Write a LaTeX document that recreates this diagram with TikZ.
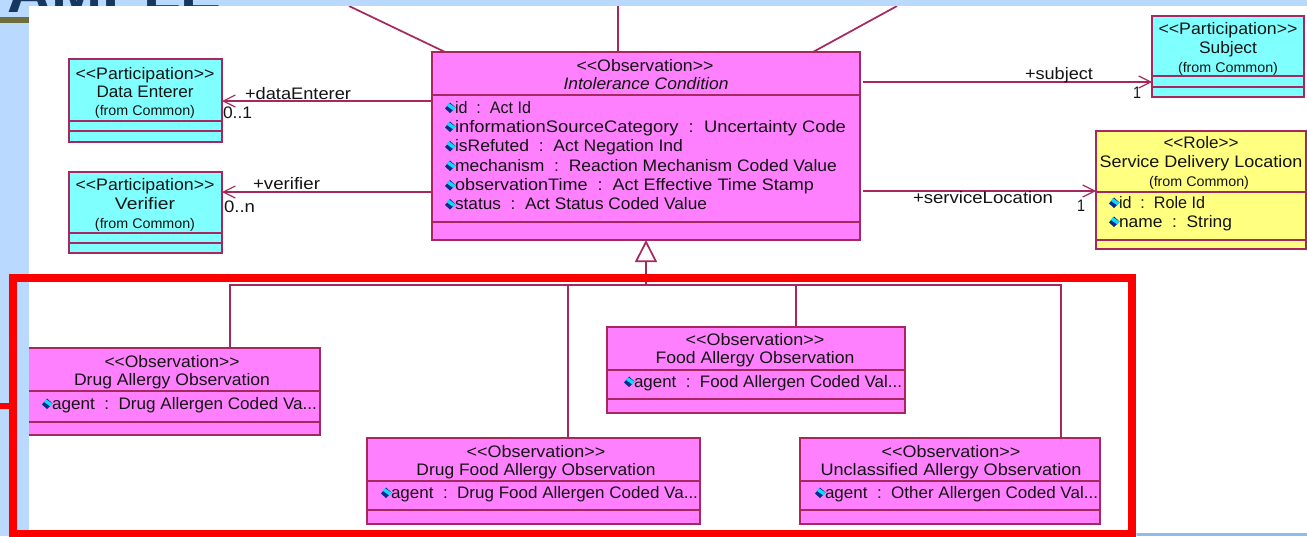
\documentclass[tikz,border=0pt]{standalone}
\usepackage{fontspec}
\usepackage{graphicx}
\setmainfont{Liberation Sans}
\usetikzlibrary{arrows.meta}
\definecolor{slideblue}{HTML}{B9D9FF}
\definecolor{stripblue}{HTML}{8DBDEE}
\definecolor{titlenavy}{HTML}{16375F}
\definecolor{bandolive}{HTML}{6E6E3A}
\definecolor{umlline}{HTML}{A6285E}
\definecolor{umlpink}{HTML}{FF80FF}
\definecolor{umlcyan}{HTML}{80FFFF}
\definecolor{umlyellow}{HTML}{FFFF80}
\definecolor{iconnavy}{HTML}{0A2A8C}
\definecolor{iconcyan}{HTML}{10D8F8}
\definecolor{redframe}{HTML}{FF0000}
\definecolor{txtcol}{HTML}{141414}
\newcounter{tn}
\tikzset{
  umlbox/.style={draw=umlline,line width=1.5pt,inner sep=0pt,outer sep=0pt},
  divider/.style={draw=umlline,line width=1.3pt},
  link/.style={draw=umlline,line width=1.3pt},
  assoc/.style={link,-{Straight Barb[length=9pt,width=9pt,line width=0.9pt]}},
  gen/.style={link,-{Triangle[open,length=16.5pt,width=16.5pt,line width=1.3pt]}},
  lbl/.style={inner sep=0pt,outer sep=0pt,text=txtcol,font=\fontsize{12.5pt}{14pt}\selectfont},
  smalllbl/.style={lbl,font=\fontsize{10.5pt}{12pt}\selectfont},
}
% box: name x1 y1 x2 y2 div1 div2 fill
\newcommand{\boxuml}[8]{%
  \pgfmathsetlengthmacro{\bw}{(#4-#2)*0.75pt}%
  \pgfmathsetlengthmacro{\bh}{(#5-#3)*0.75pt}%
  \node[umlbox,fill=#8,minimum width=\bw,minimum height=\bh] (#1) at ({(#2+#4)/2},{(#3+#5)/2}) {};
  \draw[divider] (#2,#6) -- (#4,#6);
  \draw[divider] (#2,#7) -- (#4,#7);
}
% centred text: cx cy width text
\newcommand{\ctr}[4]{\stepcounter{tn}%
  \pgfmathsetlengthmacro{\tw}{#3*0.75pt}%
  \node[lbl,anchor=base] (t\arabic{tn}) at (#1,{#2+6}) {\resizebox{\tw}{\height}{#4}};}
\newcommand{\frm}[3]{\stepcounter{tn}%
  \node[smalllbl,anchor=base] (t\arabic{tn}) at (#1,{#2+5.5}) {\resizebox{75pt}{\height}{#3}};}
% left text: x cy width text
\newcommand{\lft}[4]{\stepcounter{tn}%
  \pgfmathsetlengthmacro{\tw}{#3*0.75pt}%
  \node[lbl,anchor=base west] (t\arabic{tn}) at (#1,{#2+6}) {\resizebox{\tw}{\height}{#4}};}
% attribute: x cy width text
\newcommand{\attr}[4]{%
  \fill[iconnavy] ({#1-10},{#2+1.5}) -- ({#1-5},{#2-4.5}) -- ({#1+0.5},{#2+0.5}) -- ({#1-5},{#2+6}) -- cycle;
  \fill[iconcyan,rotate around={-35:({#1-4},#2)}] ({#1-8},{#2-2}) rectangle ({#1},{#2+1.5});
  \lft{#1}{#2}{#3}{#4}}
\begin{document}
\begin{tikzpicture}[x=0.75pt,y=-0.75pt]
\useasboundingbox (0,0) rectangle (1307,536);
\begin{scope}
\clip (0,0) rectangle (1307,536);
\fill[slideblue] (0,0) rectangle (1307,536);
\fill[stripblue] (1137,533) rectangle (1307,536);
\node[anchor=base east,inner sep=0pt,text=titlenavy,font=\fontsize{46pt}{50pt}\selectfont\bfseries] (title) at (222,12) {AMPLE};
\fill[bandolive] (0,17) rectangle (29,23);
\fill[white] (29,6) rectangle (1307,533);
\end{scope}
\fill[redframe] (0,403) rectangle (10,409);
\begin{scope}
\clip (29,6) rectangle (1307,533);
\boxuml{de}{69}{59}{222}{142}{121}{131}{umlcyan}
\boxuml{vf}{69}{172}{222}{253}{233}{243}{umlcyan}
\boxuml{main}{432}{52}{860}{240}{95}{222}{umlpink}
\boxuml{subj}{1152}{16}{1304}{97}{76}{87}{umlcyan}
\boxuml{role}{1096}{131}{1306}{249}{192}{240}{umlyellow}
\boxuml{drug}{20}{348}{320}{435}{391}{422}{umlpink}
\boxuml{dfood}{367}{438}{700}{524}{481}{510}{umlpink}
\boxuml{food}{607}{327}{905}{413}{370}{399}{umlpink}
\boxuml{uncl}{800}{438}{1100}{524}{481}{510}{umlpink}
% free ends
\coordinate (topl) at (349,6);
\coordinate (topc) at (618,6);
\coordinate (topr) at (897,6);
\coordinate (mainl) at (445,52);
\coordinate (mainc) at (618,52);
\coordinate (mainr) at (813,52);
\draw[link] (topl) -- (mainl);
\draw[link] (topc) -- (mainc);
\draw[link] (topr) -- (mainr);
\coordinate (deend) at (222,101);
\coordinate (vfend) at (222,192);
\coordinate (sbend) at (1152,82);
\coordinate (rlend) at (1096,191);
\draw[assoc] (main.west |- deend) -- (deend);
\draw[assoc] (main.west |- vfend) -- (vfend);
\coordinate (sbstart) at (863,82);
\coordinate (rlstart) at (863,191);
\draw[assoc] (sbstart) -- (sbend);
\draw[assoc] (rlstart) -- (rlend);
% generalisation tree
\coordinate (tl) at (230,285);
\coordinate (tdf) at (568,285);
\coordinate (jn) at (646,285);
\coordinate (tf) at (796,285);
\coordinate (tr) at (1061,285);
\draw[link] (tl |- drug.north) -- (tl) -- (tr) -- (tr |- uncl.north);
\draw[link] (tdf) -- (tdf |- dfood.north);
\draw[link] (tf) -- (tf |- food.north);
\draw[gen] (jn) -- (main.south);
% labels
\ctr{145}{73}{139}{<{}<Participation>{}>}
\ctr{145}{91}{97}{Data Enterer}
\frm{145}{110}{(from Common)}
\ctr{145}{184}{139}{<{}<Participation>{}>}
\ctr{145}{203}{60}{Verifier}
\frm{145}{223}{(from Common)}
\ctr{1228}{28}{139}{<{}<Participation>{}>}
\ctr{1228}{47}{58}{Subject}
\frm{1228}{67}{(from Common)}
\ctr{1201}{142}{75}{<{}<Role>{}>}
\ctr{1201}{161}{203}{Service Delivery Location}
\frm{1199}{181}{(from Common)}
\attr{1119}{202}{86}{id\ \ :\ \ Role Id}
\attr{1119}{221}{113}{name\ \ :\ \ String}
\ctr{645}{65}{137}{<{}<Observation>{}>}
\ctr{646}{83}{165}{\itshape Intolerance Condition}
\attr{455}{107}{76}{id\ \ :\ \ Act Id}
\attr{455}{126}{391}{informationSourceCategory\ \ :\ \ Uncertainty Code}
\attr{455}{145.5}{228}{isRefuted\ \ :\ \ Act Negation Ind}
\attr{455}{165}{382}{mechanism\ \ :\ \ Reaction Mechanism Coded Value}
\attr{455}{184.5}{359}{observationTime\ \ :\ \ Act Effective Time Stamp}
\attr{455}{203.5}{252}{status\ \ :\ \ Act Status Coded Value}
\ctr{172}{361}{135}{<{}<Observation>{}>}
\ctr{172}{379}{196}{Drug Allergy Observation}
\attr{52}{403}{265}{agent\ \ :\ \ Drug Allergen Coded Va...}
\ctr{536}{451}{139}{<{}<Observation>{}>}
\ctr{536}{469}{239}{Drug Food Allergy Observation}
\attr{391}{492}{307}{agent\ \ :\ \ Drug Food Allergen Coded Va...}
\ctr{755}{339}{139}{<{}<Observation>{}>}
\ctr{755}{357}{199}{Food Allergy Observation}
\attr{634}{381}{268}{agent\ \ :\ \ Food Allergen Coded Val...}
\ctr{951}{451}{139}{<{}<Observation>{}>}
\ctr{951}{469}{261}{Unclassified Allergy Observation}
\attr{825}{492}{273}{agent\ \ :\ \ Other Allergen Coded Val...}
\lft{245}{93}{106}{+dataEnterer}
\lft{223}{112}{29}{0..1}
\lft{253}{183}{67}{+verifier}
\lft{224}{206}{31}{0..n}
\lft{1025}{73}{68}{+subject}
\lft{1133}{92}{8}{1}
\lft{913}{197}{140}{+serviceLocation}
\lft{1077}{205}{8}{1}
\end{scope}
\draw[redframe,line width=6pt] (12.75,278) rectangle (1132,534);
\end{tikzpicture}
\end{document}
